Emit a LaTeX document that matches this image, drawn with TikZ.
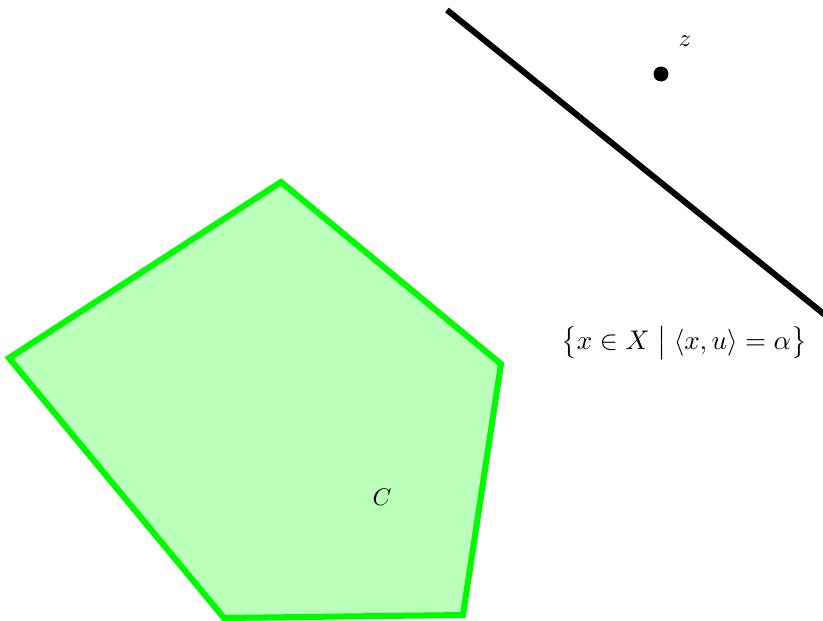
\documentclass[tikz,border=0pt]{standalone}
\usepackage{amsmath}
\usepackage{graphicx}
\begin{document}
\begin{tikzpicture}[x=1pt,y=-1pt,
  setedge/.style={draw=green!98!black, line width=6pt, line join=miter, fill=green!27},
  hyper/.style={draw=black, line width=6pt},
  lbl/.style={inner sep=0pt}]
\useasboundingbox (0,0) rectangle (823,621);
\clip (0,0) rectangle (823,621);
\coordinate (p1) at (9,358);
\coordinate (p2) at (281,182);
\coordinate (p3) at (501,364);
\coordinate (p4) at (463,615);
\coordinate (p5) at (224,618);
\path[setedge] (p1) -- (p2) -- (p3) -- (p4) -- (p5) -- cycle;
\coordinate (h1) at (447,10);
\coordinate (h2) at (835,323);
\draw[hyper] (h1) -- (h2);
\fill (661,74) circle (7.5pt) coordinate (zpt);
\node[lbl] (z) at (685,41) {\scalebox{2.5}{$z$}};
\node[lbl] (C) at (382,497) {\scalebox{2.4}{$C$}};
\node[lbl] (H) at (684,343) {\scalebox{2.7}{$\bigl\{x\in X \bigm| \langle x,u\rangle=\alpha\bigr\}$}};
\end{tikzpicture}
\end{document}
